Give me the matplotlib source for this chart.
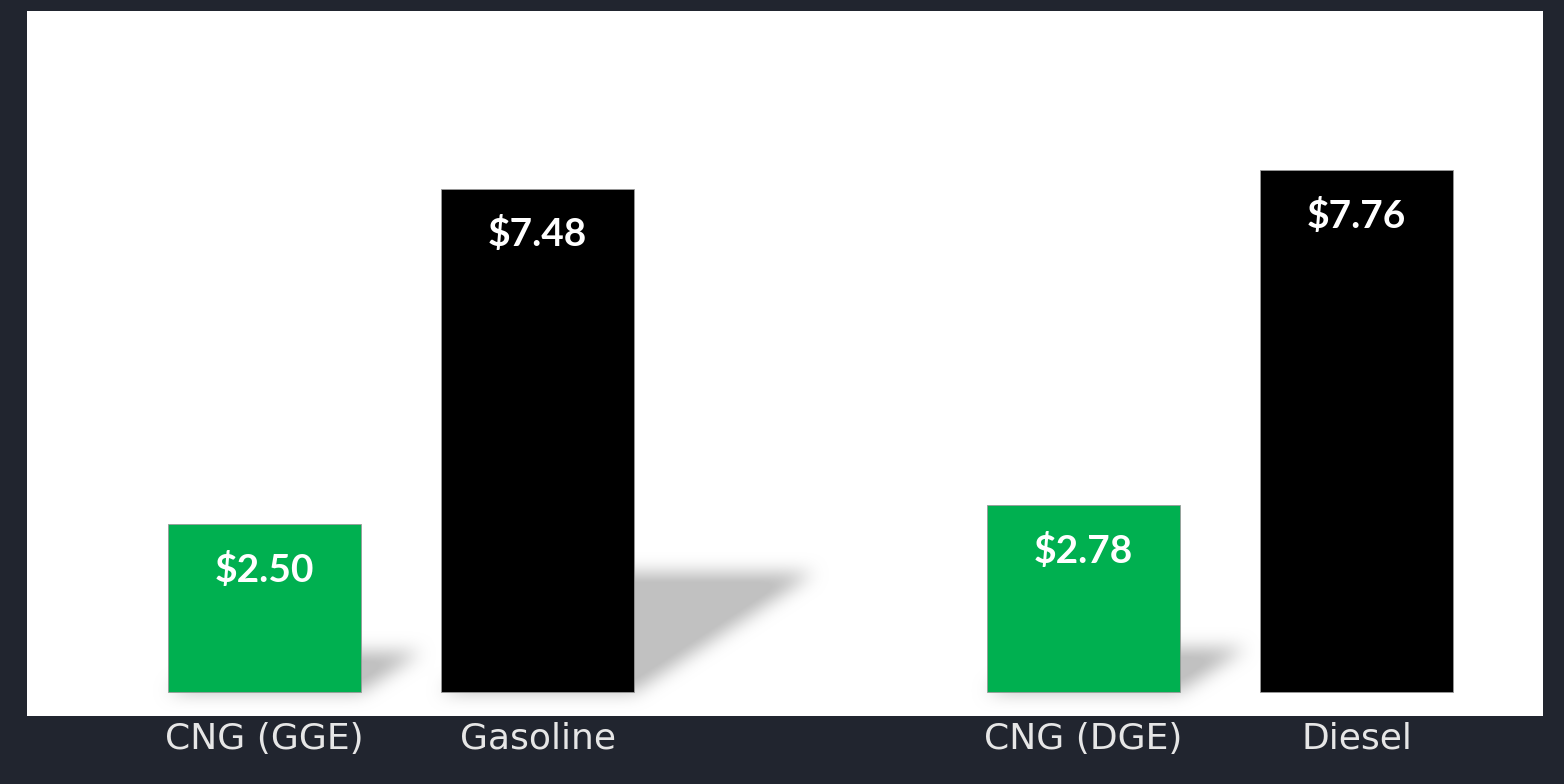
import numpy as np
import matplotlib
matplotlib.use("Agg")
import matplotlib.pyplot as plt
from matplotlib.path import Path

# data
categories = ["CNG (GGE)", "Gasoline", "CNG (DGE)", "Diesel"]
prices = [2.50, 7.48, 2.78, 7.76]
value_labels = ["$2.50", "$7.48", "$2.78", "$7.76"]

# styling
bar_colors = ["#00b050", "#000000", "#00b050", "#000000"]
has_shadow = [True, True, True, False]
bg_color = "#21252f"
label_color = "#e6e6e6"

x = np.array([0, 1, 3, 4], dtype=float)
bar_w = 0.707

fig = plt.figure(figsize=(15.64, 7.84), dpi=100, facecolor=bg_color)
ax = fig.add_axes([27 / 1564, 1 - 716 / 784, 1516 / 1564, 705 / 784])
ax.set_facecolor("white")
xlim = (-0.870, 4.683)
ylim = (-0.357, 10.12)
ax.set_xlim(*xlim)
ax.set_ylim(*ylim)

# blurred projected shadows, rendered as an image
nx, ny = 1516, 705
gx = np.linspace(xlim[0], xlim[1], nx)
gy = np.linspace(ylim[1], ylim[0], ny)
GX, GY = np.meshgrid(gx, gy)
pts = np.column_stack([GX.ravel(), GY.ravel()])
mask = np.zeros(nx * ny)
for xi, h, sh in zip(x, prices, has_shadow):
    if not sh:
        continue
    hs = 0.235 * h
    s = 0.088 * h
    left, right = xi - bar_w / 2, xi + bar_w / 2
    poly = Path([(left, 0), (right, 0), (right + s, hs), (left + s, hs), (left, 0)])
    mask[poly.contains_points(pts)] = 1.0
mask = mask.reshape(ny, nx)


def box_blur(a, r, axis):
    k = np.ones(2 * r + 1) / (2 * r + 1)
    return np.apply_along_axis(lambda m: np.convolve(m, k, mode="same"), axis, a)


for _ in range(3):
    mask = box_blur(mask, 8, 0)
    mask = box_blur(mask, 8, 1)

rgba = np.zeros((ny, nx, 4))
rgba[..., :3] = 0.76
rgba[..., 3] = np.clip(mask * 1.15, 0, 1)
ax.imshow(rgba, extent=(xlim[0], xlim[1], ylim[0], ylim[1]), aspect="auto",
          interpolation="bilinear", zorder=1)

ax.bar(x, prices, width=bar_w, color=bar_colors, edgecolor="#9a9a9a",
       linewidth=0.6, zorder=2)

for xi, h, lab in zip(x, prices, value_labels):
    ax.text(xi, h - 0.68, lab, ha="center", va="center", color="white",
            fontsize=28, fontweight="bold", family="Lato", zorder=3)

for spine in ax.spines.values():
    spine.set_visible(False)
ax.set_yticks([])
ax.set_xticks(x)
ax.set_xticklabels(categories, fontsize=26, color=label_color, family="DejaVu Sans")
ax.tick_params(axis="x", length=0, pad=4)

fig.savefig("out.png", dpi=100, facecolor=bg_color)
